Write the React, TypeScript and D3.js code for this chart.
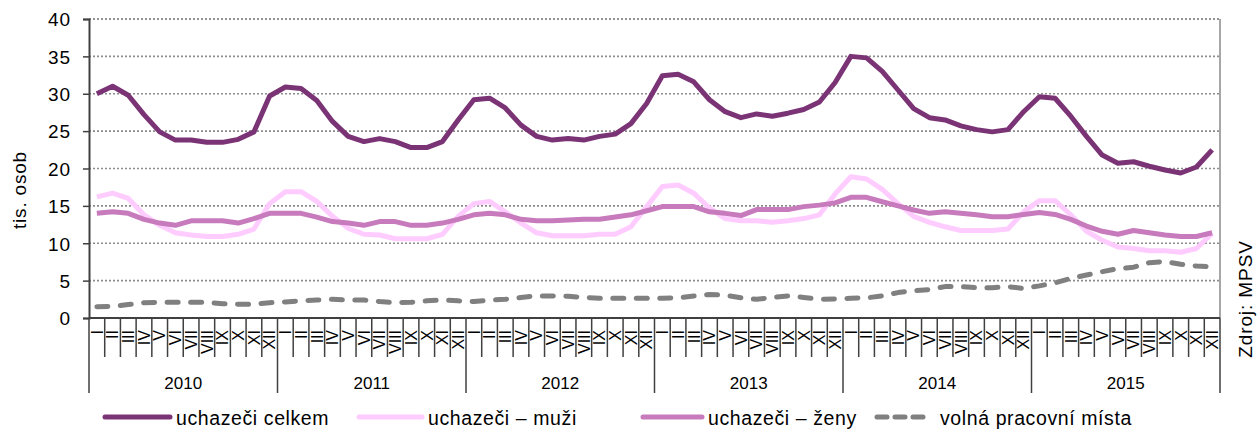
import React, { useEffect, useRef } from "react";
import * as d3 from "d3";

// months and years on the x axis
const years = ["2010", "2011", "2012", "2013", "2014", "2015"];
const months = ["I", "II", "III", "IV", "V", "VI", "VII", "VIII", "IX", "X", "XI", "XII"];
const yTicks = [0, 5, 10, 15, 20, 25, 30, 35, 40];

// tis. osob, monthly 2010-2015
const celkem = [
  30.0, 31.0, 29.8, 27.2, 24.9, 23.8, 23.8, 23.5, 23.5, 23.9, 24.9, 29.7,
  30.9, 30.7, 29.1, 26.3, 24.3, 23.6, 24.0, 23.6, 22.8, 22.8, 23.6, 26.5,
  29.2, 29.4, 28.1, 25.8, 24.3, 23.8, 24.0, 23.8, 24.3, 24.6, 26.0, 28.7,
  32.4, 32.6, 31.6, 29.2, 27.6, 26.8, 27.3, 27.0, 27.4, 27.9, 28.9, 31.5,
  35.0, 34.8, 33.0, 30.5, 28.0, 26.8, 26.5, 25.7, 25.2, 24.9, 25.2, 27.6,
  29.6, 29.4, 27.0, 24.3, 21.8, 20.7, 20.9, 20.3, 19.8, 19.4, 20.2, 22.5,
];

const muzi = [
  16.2, 16.7, 16.0, 13.8, 12.4, 11.4, 11.1, 10.9, 10.9, 11.2, 11.9, 15.3,
  16.9, 16.9, 15.6, 13.6, 12.0, 11.2, 11.1, 10.6, 10.6, 10.6, 11.2, 13.6,
  15.3, 15.6, 14.2, 12.7, 11.4, 11.0, 11.0, 11.0, 11.2, 11.2, 12.2, 14.9,
  17.6, 17.8, 16.7, 14.7, 13.3, 13.0, 13.0, 12.8, 13.0, 13.3, 13.8, 16.6,
  18.9, 18.6, 17.2, 15.3, 13.6, 12.8, 12.2, 11.7, 11.7, 11.7, 11.9, 14.2,
  15.7, 15.7, 13.8, 11.6, 10.4, 9.5, 9.3, 9.0, 9.0, 8.8, 9.3, 11.3,
];

const zeny = [
  14.0, 14.2, 14.0, 13.2, 12.7, 12.4, 13.0, 13.0, 13.0, 12.7, 13.3, 14.0,
  14.0, 14.0, 13.5, 12.9, 12.7, 12.4, 12.9, 12.9, 12.4, 12.4, 12.7, 13.2,
  13.8, 14.0, 13.8, 13.2, 13.0, 13.0, 13.1, 13.2, 13.2, 13.5, 13.8, 14.35,
  14.9, 14.9, 14.9, 14.2, 14.0, 13.7, 14.5, 14.5, 14.5, 14.9, 15.1, 15.4,
  16.15, 16.15, 15.55, 15.0, 14.45, 14.0, 14.2, 14.0, 13.8, 13.55, 13.55, 13.85,
  14.1, 13.85, 13.2, 12.3, 11.6, 11.2, 11.7, 11.4, 11.1, 10.9, 10.9, 11.4,
];

const volnaMista = [
  1.5, 1.55, 1.8, 2.05, 2.1, 2.1, 2.1, 2.1, 1.9, 1.85, 1.85, 2.05,
  2.15, 2.3, 2.4, 2.5, 2.4, 2.4, 2.2, 2.05, 2.1, 2.3, 2.4, 2.3,
  2.2, 2.4, 2.5, 2.75, 2.95, 2.95, 2.9, 2.75, 2.65, 2.65, 2.65, 2.65,
  2.65, 2.7, 2.95, 3.15, 3.05, 2.7, 2.5, 2.75, 2.95, 2.75, 2.5, 2.55,
  2.65, 2.7, 2.95, 3.4, 3.65, 3.8, 4.2, 4.2, 4.05, 4.05, 4.2, 3.95,
  4.3, 4.7, 5.3, 5.75, 6.2, 6.6, 6.8, 7.4, 7.55, 7.2, 6.95, 6.85,
];

const seriesNames = ["uchazeči celkem", "uchazeči – muži", "uchazeči – ženy", "volná pracovní místa"];

const FONT = "'Liberation Sans', Arial, sans-serif";

export default function App() {
  const ref = useRef<SVGSVGElement>(null);

  useEffect(() => {
    const svg = d3.select(ref.current);
    svg.selectAll("*").remove();

    const left = 89, right = 1220, top = 19, bottom = 318;
    const n = years.length * months.length;

    const x = d3.scaleLinear().domain([0, n]).range([left, right]);
    const y = d3.scaleLinear().domain([0, 40]).range([bottom, top]);

    // gridlines
    svg.append("g")
      .selectAll("line")
      .data(yTicks.filter(d => d > 0))
      .join("line")
      .attr("x1", left).attr("x2", right)
      .attr("y1", d => y(d)).attr("y2", d => y(d))
      .attr("stroke", d => d === 40 ? "#707070" : "#8c8c8c")
      .attr("stroke-width", 1.6)
      .attr("stroke-dasharray", "2,2");

    // right border
    svg.append("line")
      .attr("x1", right).attr("x2", right)
      .attr("y1", top).attr("y2", bottom)
      .attr("stroke", "#8a8a8a").attr("stroke-width", 1.5);

    // y axis
    const yAxis = svg.append("g")
      .attr("transform", `translate(${left},0)`)
      .call(d3.axisLeft(y).tickValues(yTicks).tickSize(6).tickPadding(12).tickFormat(d3.format("d")));
    yAxis.select(".domain").attr("stroke", "#404040").attr("stroke-width", 2);
    yAxis.selectAll(".tick line").attr("stroke", "#404040").attr("stroke-width", 1.5);
    yAxis.selectAll(".tick text")
      .attr("fill", "#000")
      .style("font-family", FONT)
      .style("font-size", "19px")
      .style("letter-spacing", "0.9px")
      .attr("dy", "0.36em");

    svg.append("text")
      .attr("transform", `translate(26,190) rotate(-90)`)
      .attr("text-anchor", "middle")
      .style("font-family", FONT)
      .style("font-size", "19px")
      .style("letter-spacing", "0.8px")
      .text("tis. osob");

    // x axis: month ticks, year separators
    const xg = svg.append("g");
    const bounds = d3.range(0, n + 1);
    xg.selectAll("line.tick")
      .data(bounds)
      .join("line")
      .attr("class", "tick")
      .attr("x1", d => x(d)).attr("x2", d => x(d))
      .attr("y1", bottom)
      .attr("y2", d => d % 12 === 0 ? 393 : 357)
      .attr("stroke", "#404040")
      .attr("stroke-width", 1.5);

    xg.append("line")
      .attr("x1", left).attr("x2", right)
      .attr("y1", bottom).attr("y2", bottom)
      .attr("stroke", "#404040").attr("stroke-width", 2);

    xg.selectAll("text.month")
      .data(d3.range(n))
      .join("text")
      .attr("class", "month")
      .attr("transform", d => `translate(${x(d + 0.5) + 5.8},330) rotate(-90)`)
      .attr("text-anchor", "end")
      .style("font-family", FONT)
      .style("font-size", "16px")
      .text(d => months[d % 12]);

    xg.selectAll("text.year")
      .data(years)
      .join("text")
      .attr("class", "year")
      .attr("x", (d, i) => x(i * 12 + 6))
      .attr("y", 389)
      .attr("text-anchor", "middle")
      .style("font-family", FONT)
      .style("font-size", "17px")
      .text(d => d);

    // series
    const line = d3.line<number>()
      .x((d, i) => x(i + 0.5))
      .y(d => y(d));

    const series = [
      { data: volnaMista, color: "#808080", dash: "11,12.5" },
      { data: muzi, color: "#FFCCFF", dash: null },
      { data: zeny, color: "#C77BBD", dash: null },
      { data: celkem, color: "#7A3375", dash: null },
    ];

    series.forEach(s => {
      svg.append("path")
        .datum(s.data)
        .attr("d", line)
        .attr("fill", "none")
        .attr("stroke", s.color)
        .attr("stroke-width", 5)
        .attr("stroke-linejoin", "round")
        .attr("stroke-linecap", s.dash ? "round" : "butt")
        .attr("stroke-dasharray", s.dash);
    });

    // legend
    const legendItems = [
      { name: seriesNames[0], color: "#7A3375", dash: null, x0: 105, x1: 170, tx: 176 },
      { name: seriesNames[1], color: "#FFCCFF", dash: null, x0: 359, x1: 422, tx: 428 },
      { name: seriesNames[2], color: "#C77BBD", dash: null, x0: 643, x1: 702, tx: 708 },
      { name: seriesNames[3], color: "#808080", dash: "10,8", x0: 877, x1: 928, tx: 940 },
    ];
    const lg = svg.append("g");
    legendItems.forEach(it => {
      lg.append("line")
        .attr("x1", it.x0).attr("x2", it.x1)
        .attr("y1", 417).attr("y2", 417)
        .attr("stroke", it.color)
        .attr("stroke-width", 5)
        .attr("stroke-linecap", "round")
        .attr("stroke-dasharray", it.dash);
      lg.append("text")
        .attr("x", it.tx)
        .attr("y", 425)
        .style("font-family", FONT)
        .style("font-size", "19.5px")
        .style("letter-spacing", "0.6px")
        .text(it.name);
    });

    // source
    svg.append("text")
      .attr("transform", `translate(1252,299) rotate(-90)`)
      .attr("text-anchor", "middle")
      .style("font-family", FONT)
      .style("font-size", "19px")
      .style("letter-spacing", "0.9px")
      .text("Zdroj: MPSV");
  }, []);

  return (
    <svg
      ref={ref}
      width={1258}
      height={432}
      style={{ position: "absolute", left: 0, top: 0, background: "#fff" }}
    />
  );
}
